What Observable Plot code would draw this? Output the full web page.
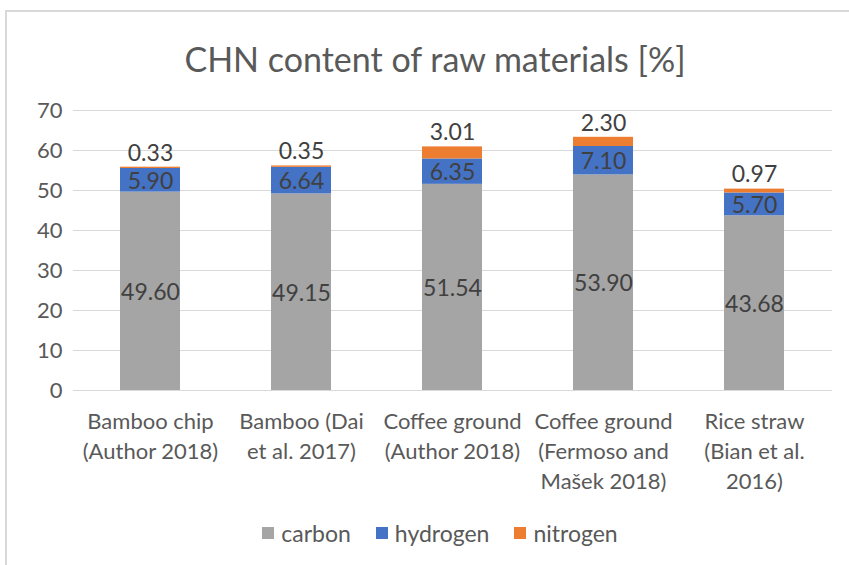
<!DOCTYPE html>
<html>
<head>
<meta charset="utf-8">
<script src="https://cdn.jsdelivr.net/npm/d3@7"></script>
<script src="https://cdn.jsdelivr.net/npm/@observablehq/plot@0.6"></script>
<style>
  html, body { margin: 0; padding: 0; background: #fff; overflow: hidden; }
  body { width: 849px; height: 565px; position: relative; font-family: Lato, "Open Sans", sans-serif; }
  #frame { position: absolute; left: 5px; top: 10px; width: 900px; height: 600px; border: 2px solid #d9d9d9; box-sizing: border-box; }
  #title { position: absolute; left: 0; top: 0; width: 870px; height: 90px; line-height: 118px; text-align: center; font-size: 34px; color: #595959; }
  #chart { position: absolute; left: 0; top: 90px; }
  #legend { position: absolute; left: 0; top: 500px; width: 880px; height: 65px; display: flex; justify-content: center; align-items: center; gap: 25px; font-size: 23px; color: #595959; }
  .item { display: flex; align-items: center; gap: 7px; }
  .sw { width: 12px; height: 12px; display: inline-block; }
</style>
</head>
<body>
<div id="frame"></div>
<div id="title">CHN content of raw materials [%]</div>
<div id="chart"></div>
<div id="legend"></div>
<script>
const categories = [
  "Bamboo chip (Author 2018)",
  "Bamboo (Dai et al. 2017)",
  "Coffee ground (Author 2018)",
  "Coffee ground (Fermoso and Mašek 2018)",
  "Rice straw (Bian et al. 2016)"
];
const tickLabels = [
  "Bamboo chip\n(Author 2018)",
  "Bamboo (Dai\net al. 2017)",
  "Coffee ground\n(Author 2018)",
  "Coffee ground\n(Fermoso and\nMašek 2018)",
  "Rice straw\n(Bian et al.\n2016)"
];
const series = ["carbon", "hydrogen", "nitrogen"];
const carbon = [49.60, 49.15, 51.54, 53.90, 43.68];
const hydrogen = [5.90, 6.64, 6.35, 7.10, 5.70];
const nitrogen = [0.33, 0.35, 3.01, 2.30, 0.97];
const colors = ["#A5A5A5", "#4472C4", "#ED7D31"];
const yTicks = [0, 10, 20, 30, 40, 50, 60, 70];

const valuesBySeries = {carbon, hydrogen, nitrogen};
const data = [];
series.forEach(s => categories.forEach((c, i) => data.push({category: c, element: s, value: valuesBySeries[s][i]})));
const labelOf = new Map(categories.map((c, i) => [c, tickLabels[i]]));

const chart = Plot.plot({
  width: 849,
  height: 410,
  marginTop: 20,
  marginBottom: 110,
  marginLeft: 73,
  marginRight: 17,
  style: {fontFamily: "Lato, 'Open Sans', sans-serif", background: "transparent", overflow: "visible"},
  x: {domain: categories, paddingInner: 0.6, paddingOuter: 0.3, label: null},
  y: {domain: [0, 70], label: null},
  color: {domain: series, range: colors},
  marks: [
    Plot.gridY(yTicks, {stroke: "#d9d9d9", strokeOpacity: 1, strokeWidth: 1}),
    Plot.barY(data, {x: "category", y: "value", fill: "element", order: series}),
    Plot.text(data, Plot.stackY({x: "category", y: "value", z: "element", order: series,
      text: d => d.element === "nitrogen" ? "" : d.value.toFixed(2),
      fontSize: 23, fill: "#404040", dy: 1})),
    Plot.text(data, Plot.stackY2({x: "category", y: "value", z: "element", order: series,
      text: d => d.element === "nitrogen" ? d.value.toFixed(2) : "",
      fontSize: 23, fill: "#404040", dy: -14})),
    Plot.axisY(yTicks, {tickSize: 0, tickPadding: 11, fontSize: 22, fill: "#595959", tickFormat: d => String(d)}),
    Plot.axisX({tickSize: 0, tickPadding: 17, fontSize: 22, fill: "#595959", lineHeight: 1.36,
      tickFormat: c => labelOf.get(c)})
  ]
});
document.getElementById("chart").appendChild(chart);

const legend = document.getElementById("legend");
series.forEach((s, i) => {
  const it = document.createElement("div");
  it.className = "item";
  const sw = document.createElement("span");
  sw.className = "sw";
  sw.style.background = colors[i];
  it.appendChild(sw);
  it.appendChild(document.createTextNode(s));
  legend.appendChild(it);
});
</script>
</body>
</html>
